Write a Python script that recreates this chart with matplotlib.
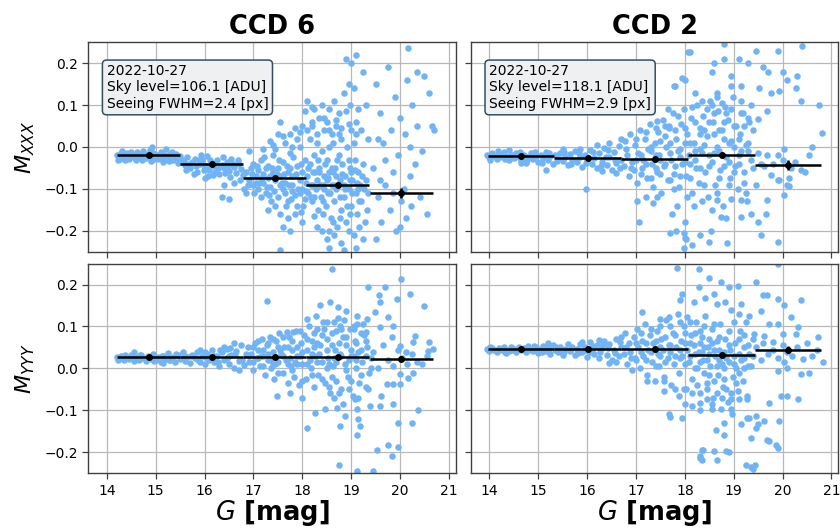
import numpy as np
import matplotlib
matplotlib.use("Agg")
import matplotlib.pyplot as plt

# ---------------- data ----------------
ccd_names = ["CCD 6", "CCD 2"]
dates = ["2022-10-27", "2022-10-27"]
sky_levels = [106.1, 118.1]
seeing_fwhm = [2.4, 2.9]

# binned statistics (centre, value, y-error, half width)
bin_g_ccd6 = [14.855, 16.145, 17.435, 18.73, 20.025]
bin_g_ccd2 = [14.65, 16.01, 17.38, 18.75, 20.11]
bin_halfwidth_ccd6 = 0.645
bin_halfwidth_ccd2 = 0.68
mxxx_ccd6 = [-0.020, -0.040, -0.074, -0.090, -0.110]
mxxx_ccd6_err = [0.002, 0.002, 0.003, 0.004, 0.013]
mxxx_ccd2 = [-0.022, -0.026, -0.029, -0.019, -0.042]
mxxx_ccd2_err = [0.002, 0.002, 0.003, 0.004, 0.012]
myyy_ccd6 = [0.026, 0.026, 0.028, 0.027, 0.023]
myyy_ccd6_err = [0.001, 0.001, 0.002, 0.003, 0.006]
myyy_ccd2 = [0.047, 0.047, 0.047, 0.031, 0.045]
myyy_ccd2_err = [0.001, 0.001, 0.002, 0.003, 0.008]

# individual stars (G, moment)
stars_ccd6_mxxx = [
    (14.20,-0.018),(14.25,-0.022),(14.30,-0.015),(14.35,-0.025),(14.40,-0.020),(14.45,-0.028),(14.50,-0.012),
    (14.55,-0.022),(14.60,-0.030),(14.65,-0.018),(14.70,-0.024),(14.75,-0.010),(14.80,-0.027),(14.85,-0.020),
    (14.90,-0.033),(14.95,-0.015),(15.00,-0.023),(15.05,-0.028),(15.10,-0.012),(15.15,-0.035),(15.20,-0.020),
    (15.25,-0.026),(15.30,-0.017),(15.35,-0.031),(15.40,-0.024),(15.45,-0.038),(15.50,-0.021),
    (14.27,-0.028),(14.42,-0.014),(14.57,-0.026),(14.72,-0.032),(14.88,-0.008),(15.03,-0.018),(15.18,-0.030),
    (15.33,-0.012),(15.48,-0.030),(14.92,-0.001),(15.22,-0.004),
    (15.55,-0.030),(15.60,-0.042),(15.65,-0.025),(15.70,-0.050),(15.75,-0.035),(15.80,-0.028),(15.85,-0.060),
    (15.90,-0.040),(15.95,-0.032),(16.00,-0.048),(16.05,-0.022),(16.10,-0.055),(16.15,-0.038),(16.20,-0.045),
    (16.25,-0.030),(16.30,-0.065),(16.35,-0.042),(16.40,-0.050),(16.45,-0.035),(16.50,-0.058),(16.55,-0.028),
    (16.60,-0.047),(16.65,-0.062),(16.70,-0.040),(16.75,-0.052),
    (15.62,-0.055),(15.78,-0.065),(15.92,-0.020),(16.08,-0.070),(16.22,-0.060),(16.38,-0.025),(16.52,-0.072),
    (16.68,-0.030),(16.78,-0.068),(16.05,-0.045),
    (16.35,-0.120),(16.50,-0.125),(16.40,-0.090),(16.00,-0.075),(16.60,-0.085),(16.80,-0.100),(16.85,-0.110),
    (16.90,-0.010),
    (16.85,-0.060),(16.90,-0.080),(16.95,-0.050),(17.00,-0.090),(17.00,-0.040),(17.05,-0.070),(17.10,-0.100),
    (17.10,-0.055),(17.15,-0.030),(17.20,-0.085),(17.20,-0.065),(17.25,-0.110),(17.30,-0.045),(17.30,-0.075),
    (17.35,-0.095),(17.40,-0.060),(17.40,-0.020),(17.45,-0.080),(17.50,-0.120),(17.50,-0.050),(17.55,-0.070),
    (17.60,-0.100),(17.60,-0.035),(17.65,-0.085),(17.70,-0.130),(17.70,-0.060),(17.75,-0.015),(17.80,-0.090),
    (17.80,-0.070),(17.85,-0.115),(17.90,-0.045),(17.90,-0.140),(17.95,-0.080),(18.00,-0.100),(18.00,-0.060),
    (18.05,-0.125),(18.05,-0.030),(17.15,-0.120),(17.45,-0.140),(17.55,-0.160),(17.30,-0.150),(17.70,-0.170),
    (17.60,-0.190),(17.85,-0.160),(18.00,-0.180),(17.40,0.005),(17.65,0.010),(17.90,0.020),(17.50,0.030),
    (17.85,0.045),(18.00,0.050),(17.20,-0.005),(17.75,-0.200),(17.55,-0.245),(17.95,0.000),
    (17.05,-0.085),(17.25,-0.050),(17.35,-0.070),(17.55,-0.090),(17.75,-0.050),(17.95,-0.110),(17.65,-0.110),
    (18.10,-0.070),(18.12,-0.110),(18.15,-0.040),(18.18,-0.090),(18.20,-0.130),(18.22,-0.060),(18.25,-0.020),
    (18.28,-0.100),(18.30,-0.080),(18.32,-0.150),(18.35,-0.050),(18.38,-0.120),(18.40,-0.010),(18.42,-0.090),
    (18.45,-0.070),(18.48,-0.140),(18.50,-0.030),(18.52,-0.110),(18.55,-0.060),(18.58,-0.170),(18.60,-0.090),
    (18.62,0.010),(18.65,-0.130),(18.68,-0.050),(18.70,-0.100),(18.72,-0.190),(18.75,-0.020),(18.78,-0.080),
    (18.80,-0.150),(18.82,-0.040),(18.85,-0.120),(18.88,-0.070),(18.90,-0.180),(18.92,0.000),(18.95,-0.100),
    (18.98,-0.050),(19.00,-0.140),(19.02,-0.080),(19.05,-0.210),(19.08,-0.030),(19.10,-0.110),(19.12,-0.160),
    (19.15,-0.060),(19.18,-0.090),(19.20,-0.130),(19.25,-0.040),(19.28,-0.180),(19.30,-0.080),(19.35,-0.110),
    (18.15,0.020),(18.20,0.050),(18.30,0.030),(18.35,0.070),(18.40,0.100),(18.45,0.040),(18.50,0.060),
    (18.55,0.090),(18.60,0.030),(18.65,0.110),(18.70,0.050),(18.75,0.080),(18.80,0.020),(18.85,0.130),
    (18.90,0.210),(18.95,0.150),(18.97,0.100),(19.00,0.200),(19.05,0.140),(19.10,0.060),(19.15,0.090),
    (19.20,0.040),(19.25,0.180),(19.30,0.100),(19.35,0.020),(18.10,0.110),(18.25,0.090),(19.10,0.220),
    (18.40,-0.200),(18.50,-0.220),(18.55,-0.240),(18.65,-0.210),(18.80,-0.230),(18.95,-0.200),(19.10,-0.240),
    (19.25,-0.220),(18.30,-0.190),(18.85,-0.245),
    (18.35,-0.060),(18.45,-0.100),(18.60,-0.050),(18.70,-0.070),(18.85,-0.090),(19.00,-0.060),(19.15,-0.100),
    (18.50,-0.080),(18.25,-0.120),(18.95,-0.030),(19.05,0.010),(18.55,0.000),(18.75,0.030),
    (19.45,-0.050),(19.50,0.150),(19.55,-0.120),(19.60,0.080),(19.62,-0.180),(19.65,0.010),(19.70,-0.090),
    (19.75,0.190),(19.80,-0.150),(19.82,0.040),(19.85,-0.060),(19.90,0.120),(19.92,-0.200),(19.95,-0.020),
    (20.00,0.070),(20.02,-0.130),(20.17,0.236),(20.08,-0.100),(20.10,0.030),(20.12,-0.170),(20.15,0.160),
    (20.20,-0.070),(20.22,-0.140),(20.25,0.100),(20.30,-0.040),(20.35,0.050),(20.40,-0.120),(20.45,-0.010),
    (20.50,0.170),(20.55,-0.160),(20.60,0.130),(20.65,0.050),(20.70,0.040),(19.50,-0.220),(19.70,-0.030),
    (20.35,0.180),(19.60,-0.080),(20.00,-0.190),(19.55,0.020),(19.85,-0.110),(20.20,0.000),
]
core_ccd6_mxxx = [
    (14.22,-0.030),(14.32,-0.010),(14.47,-0.020),(14.62,-0.012),(14.78,-0.018),(14.97,-0.028),(15.08,-0.020),
    (15.28,-0.034),(15.42,-0.016),(14.37,-0.032),(14.67,-0.026),(15.13,-0.026),
    (15.58,-0.036),(15.68,-0.040),(15.82,-0.045),(15.98,-0.055),(16.12,-0.030),(16.28,-0.050),(16.42,-0.062),
    (16.58,-0.040),(16.72,-0.080),(16.48,-0.045),(16.18,-0.068),(15.88,-0.030),
    (16.88,-0.090),(16.98,-0.065),(17.08,-0.045),(17.18,-0.075),(17.28,-0.095),(17.38,-0.050),(17.48,-0.065),
    (17.58,-0.085),(17.68,-0.045),(17.78,-0.105),(17.88,-0.065),(17.98,-0.040),(18.08,-0.085),(17.02,-0.110),
    (17.22,-0.025),(17.42,-0.105),(17.62,-0.065),(17.82,-0.025),(18.02,-0.140),(17.12,-0.085),(17.32,-0.115),
    (17.52,-0.030),(17.72,-0.090),(17.92,-0.100),(17.37,-0.130),(17.67,-0.140),(17.97,-0.155),(17.77,-0.125),
    (18.07,-0.105),
    (17.35,0.015),(17.60,0.025),(17.80,0.000),(17.95,0.035),(18.10,0.040),(18.20,0.060),(18.30,0.010),
    (18.45,0.070),(18.55,0.040),(18.70,0.065),(18.80,0.045),(18.90,0.085),(18.95,0.055),(19.00,0.040),
    (19.10,0.030),(17.55,0.060),(17.75,0.030),(17.45,-0.005),(18.05,0.085),(18.20,0.095),
    (18.12,-0.050),(18.17,-0.120),(18.22,-0.090),(18.27,-0.060),(18.32,-0.030),(18.37,-0.090),(18.42,-0.130),
    (18.47,-0.040),(18.52,-0.075),(18.57,-0.110),(18.62,-0.060),(18.67,-0.090),(18.72,-0.030),(18.77,-0.120),
    (18.82,-0.065),(18.87,-0.100),(18.92,-0.140),(18.97,-0.080),(19.02,-0.110),(19.07,-0.055),(19.12,-0.085),
    (19.17,-0.130),(19.22,-0.070),(19.27,-0.100),(19.32,-0.150),(18.42,-0.160),(18.62,-0.180),(18.77,-0.170),
    (18.97,-0.160),(19.17,-0.190),(18.25,-0.165),(18.55,-0.200),
]

stars_ccd2_mxxx = [
    (13.96,-0.018),(14.00,-0.024),(14.05,-0.015),(14.10,-0.022),(14.15,-0.028),(14.20,-0.017),(14.25,-0.025),
    (14.30,-0.012),(14.35,-0.021),(14.40,-0.030),(14.45,-0.018),(14.50,-0.026),(14.55,-0.014),(14.60,-0.023),
    (14.65,-0.032),(14.70,-0.019),(14.75,-0.038),(14.80,-0.025),(14.85,-0.015),(14.90,-0.029),(14.95,-0.021),
    (15.00,-0.035),(15.05,-0.018),(15.10,-0.027),(15.15,-0.012),(15.20,-0.032),(15.25,-0.022),(15.30,-0.040),
    (15.35,-0.019),(15.40,-0.028),(15.45,-0.014),(15.50,-0.034),(15.55,-0.024),(15.60,-0.043),(15.65,-0.017),
    (15.70,-0.030),(15.75,-0.010),(15.80,-0.036),(15.85,-0.025),(15.90,-0.047),(15.95,-0.020),(16.00,-0.032),
    (16.05,-0.008),(16.10,-0.040),(16.15,-0.026),(16.20,-0.050),(16.25,-0.015),(16.30,-0.035),(16.35,-0.003),
    (16.40,-0.044),(16.45,-0.024),(16.50,-0.055),(16.55,-0.012),(16.60,-0.038),(16.65,0.002),(16.70,-0.030),
    (14.65,-0.038),(15.16,-0.054),(15.98,-0.100),(15.50,-0.005),(16.20,0.005),(16.45,0.010),(16.60,-0.062),
    (16.30,-0.058),(14.40,-0.008),(15.85,-0.005),
    (16.75,-0.045),(16.78,0.015),(16.82,-0.020),(16.85,-0.070),(16.88,0.030),(16.92,-0.035),(16.95,-0.055),
    (16.98,0.005),(17.02,-0.085),(17.05,-0.015),(17.08,0.040),(17.12,-0.050),(17.15,-0.030),(17.18,0.020),
    (17.22,-0.075),(17.25,-0.005),(17.28,0.055),(17.32,-0.040),(17.35,-0.095),(17.38,0.010),(17.42,-0.060),
    (17.45,0.035),(17.48,-0.020),(17.52,-0.110),(17.55,0.065),(17.58,-0.045),(17.62,0.000),(17.65,-0.080),
    (17.68,0.045),(17.72,-0.030),(17.75,0.080),(17.78,-0.065),(17.82,0.020),(17.85,-0.010),(17.88,-0.095),
    (17.92,0.055),(17.95,-0.040),(17.98,0.090),(18.02,-0.070),(18.05,0.030),(18.08,-0.020),(18.12,0.070),
    (18.15,-0.110),(18.18,0.010),(18.22,-0.050),(18.25,0.100),(18.28,-0.085),(18.32,0.045),(18.35,-0.015),
    (18.38,0.075),(18.42,-0.060),(18.45,0.025),(18.48,-0.120),(18.52,0.110),(18.55,-0.035),(18.58,0.060),
    (18.62,-0.090),(18.65,0.000),(18.68,0.085),(18.72,-0.055),(18.75,0.040),(18.78,-0.140),(18.82,0.095),
    (18.85,-0.025),(18.88,0.065),(18.92,-0.075),(18.95,0.015),(18.98,0.120),(19.02,-0.045),(19.05,0.050),
    (19.08,-0.100),(19.12,0.030),(19.15,-0.010),(19.18,0.080),(19.22,-0.060),(19.25,0.005),(19.28,-0.130),
    (19.32,0.060),(19.35,-0.030),(19.40,0.040),
    (17.10,-0.020),(17.30,-0.010),(17.50,-0.030),(17.70,-0.015),(17.90,-0.025),(18.10,-0.040),(18.30,-0.005),
    (18.50,-0.020),(18.70,-0.010),(18.90,-0.035),(19.10,-0.020),(19.30,0.010),(17.60,0.025),(18.00,0.010),
    (18.40,0.040),(18.80,0.020),(17.40,-0.050),(18.20,-0.030),(18.60,0.030),(19.00,0.000),
    (18.10,0.226),(18.80,0.245),(18.80,0.210),(19.10,0.210),(19.45,0.230),(19.90,0.230),(20.40,0.240),
    (18.60,0.200),(18.56,0.180),(18.00,0.160),(17.80,0.145),(18.20,0.130),(18.66,0.130),(18.94,0.170),
    (19.30,0.200),(19.60,0.190),(19.70,0.180),(20.00,0.180),(20.10,0.160),(20.30,0.170),(20.28,0.140),
    (20.38,0.110),(20.75,0.100),(20.80,0.034),(19.76,0.130),(19.93,0.134),(19.52,0.140),(19.14,0.146),
    (18.94,0.146),(19.69,0.086),(19.49,0.066),(19.35,0.100),(19.14,0.080),(17.95,0.164),(17.78,0.146),
    (18.06,0.226),(17.44,0.062),(17.68,0.050),(16.69,0.018),
    (17.20,-0.120),(17.43,-0.120),(17.84,-0.140),(17.74,-0.160),(18.01,-0.180),(18.15,-0.235),(18.49,-0.226),
    (18.53,-0.200),(18.87,-0.230),(18.32,-0.210),(18.73,-0.166),(19.14,-0.166),(19.35,-0.160),(19.49,-0.180),
    (19.55,-0.210),(19.90,-0.226),(19.66,-0.160),(20.03,-0.114),(20.10,-0.090),(20.14,-0.074),(19.90,-0.078),
    (19.69,-0.126),(19.14,-0.126),(18.66,-0.126),(18.18,-0.142),(17.77,-0.100),(17.98,-0.206),(17.70,-0.206),
    (18.00,-0.218),(17.03,-0.130),(17.07,-0.180),(17.34,-0.134),(17.82,-0.200),(17.99,-0.240),(18.02,-0.220),
    (19.49,-0.014),(19.69,-0.018),(19.90,-0.018),(19.62,-0.046),(19.76,-0.066),(19.93,-0.078),(20.17,-0.050),
    (20.38,-0.054),(20.55,-0.018),(20.03,-0.006),(20.14,-0.094),(19.55,-0.040),(19.80,-0.040),(20.00,-0.030),
    (20.25,-0.035),(20.45,-0.060),(19.45,-0.090),(20.60,0.000),
]
core_ccd2_mxxx = [
    (14.02,-0.030),(14.18,-0.010),(14.33,-0.028),(14.48,-0.018),(14.63,-0.012),(14.78,-0.030),(14.93,-0.012),
    (15.08,-0.038),(15.23,-0.015),(15.38,-0.033),(15.53,-0.012),(15.68,-0.040),(15.83,-0.015),(15.98,-0.038),
    (16.13,-0.012),(16.28,-0.045),(16.43,-0.008),(16.58,-0.030),(16.68,-0.050),(16.38,-0.025),
    (16.80,-0.005),(16.90,-0.050),(17.00,0.020),(17.00,-0.030),(17.10,-0.065),(17.20,0.035),(17.20,-0.040),
    (17.30,0.000),(17.30,-0.075),(17.40,0.045),(17.40,-0.020),(17.50,0.015),(17.50,-0.065),(17.60,-0.040),
    (17.60,0.050),(17.70,-0.080),(17.70,0.010),(17.80,0.040),(17.80,-0.045),(17.90,-0.005),(17.90,-0.070),
    (18.00,0.045),(18.00,-0.035),(18.10,0.010),(18.10,-0.075),(18.20,0.060),(18.20,-0.010),(18.30,-0.050),
    (18.30,0.030),(18.40,-0.090),(18.40,0.005),(18.50,0.060),(18.50,-0.045),(18.60,-0.015),(18.60,0.080),
    (18.70,0.040),(18.70,-0.075),(18.80,-0.045),(18.80,0.060),(18.90,0.010),(18.90,-0.090),(19.00,0.050),
    (19.00,-0.060),(19.10,0.020),(19.10,-0.040),(19.20,0.050),(19.20,-0.085),(19.30,-0.010),(19.30,0.070),
    (19.40,-0.050),(18.55,0.100),(18.75,0.105),(18.65,0.120),(18.85,0.080),(18.45,0.090),(18.35,0.110),
    (19.15,0.110),(18.95,0.090),(17.65,0.090),(17.85,0.075),(18.15,0.095),(18.05,-0.120),(18.35,-0.130),
    (18.65,-0.110),(18.95,-0.125),(19.25,-0.110),(18.55,-0.150),(18.85,-0.170),
]

stars_ccd6_myyy = [
    (14.20,0.026),(14.25,0.022),(14.30,0.030),(14.35,0.019),(14.40,0.027),(14.45,0.023),(14.50,0.033),
    (14.55,0.018),(14.60,0.028),(14.65,0.021),(14.70,0.031),(14.75,0.024),(14.80,0.017),(14.85,0.029),
    (14.90,0.022),(14.95,0.034),(15.00,0.020),(15.05,0.027),(15.10,0.016),(15.15,0.030),(15.20,0.023),
    (15.25,0.036),(15.30,0.019),(15.35,0.026),(15.40,0.014),(15.45,0.032),(15.50,0.022),(15.55,0.038),
    (15.60,0.018),(15.65,0.028),(15.70,0.012),(15.75,0.033),(15.80,0.024),(15.85,0.040),(15.90,0.016),
    (15.95,0.029),(16.00,0.010),(16.05,0.035),(16.10,0.021),(16.15,0.043),(16.20,0.014),(16.25,0.030),
    (16.30,0.006),(16.35,0.038),(16.40,0.020),(16.45,0.047),(16.50,0.011),(16.55,0.032),(16.60,0.002),
    (16.65,0.042),(16.70,0.018),(16.75,0.055),(16.80,0.008),
    (14.55,0.040),(15.15,0.012),(15.90,0.045),(16.40,0.052),(16.60,0.060),(16.70,-0.005),(16.50,0.030),
    (16.20,0.030),(16.00,0.028),(15.60,0.030),(16.85,0.035),
    (16.88,0.050),(16.92,0.015),(16.95,0.035),(17.00,-0.005),(17.03,0.060),(17.07,0.025),(17.10,0.045),
    (17.13,0.005),(17.17,0.070),(17.20,0.030),(17.23,-0.015),(17.27,0.055),(17.30,0.020),(17.33,0.075),
    (17.37,0.000),(17.40,0.040),(17.43,-0.025),(17.47,0.065),(17.50,0.015),(17.53,0.085),(17.57,0.035),
    (17.60,-0.010),(17.63,0.050),(17.67,0.020),(17.70,-0.035),(17.73,0.075),(17.77,0.005),(17.80,0.045),
    (17.83,-0.020),(17.87,0.090),(17.90,0.030),(17.93,-0.040),(17.97,0.060),(18.00,0.010),(18.03,0.080),
    (18.07,-0.025),(18.10,0.045),(18.13,0.100),(18.17,0.000),(18.20,0.065),(18.23,-0.045),(18.27,0.030),
    (18.30,0.095),(18.33,-0.015),(18.37,0.055),(18.40,0.015),(18.43,0.110),(18.47,-0.035),(18.50,0.070),
    (18.53,0.025),(18.57,-0.060),(18.60,0.085),(18.63,0.005),(18.67,0.045),(18.70,-0.030),(18.73,0.120),
    (18.77,0.035),(18.80,-0.050),(18.83,0.075),(18.87,0.010),(18.90,0.055),(18.93,-0.020),(18.97,0.095),
    (19.00,0.030),(19.03,-0.065),(19.07,0.065),(19.10,0.000),(19.13,0.105),(19.17,-0.035),(19.20,0.045),
    (19.23,0.015),(19.27,0.080),(19.30,-0.045),(19.33,0.050),(19.37,-0.010),(19.40,0.025),
    (17.15,0.030),(17.35,0.020),(17.55,0.045),(17.75,0.025),(17.95,0.030),(18.15,0.020),(18.35,0.035),
    (18.55,0.010),(18.75,0.060),(18.95,0.020),(19.15,0.040),(17.45,0.010),(17.85,0.015),(18.25,0.050),
    (18.65,0.025),(19.05,0.030),
    (19.45,0.040),(19.55,0.000),(19.65,0.055),(19.75,0.020),(19.85,0.005),(19.95,0.045),(20.05,0.025),
    (20.15,0.010),(20.25,0.035),(20.35,0.015),(20.45,0.010),(20.55,0.030),
    (18.60,0.237),(20.03,0.214),(19.35,0.194),(19.69,0.194),(17.27,0.160),(18.36,0.152),(18.57,0.158),
    (18.74,0.146),(18.90,0.136),(19.11,0.126),(19.56,0.174),(19.59,0.158),(19.93,0.166),(20.20,0.178),
    (20.50,0.150),(19.49,0.134),(19.76,0.122),(19.32,0.118),(18.09,0.118),(18.29,0.126),(17.82,0.086),
    (17.68,0.086),(17.95,0.090),(18.50,0.110),(18.77,0.102),(19.05,0.094),(19.30,0.086),(19.59,0.098),
    (19.86,0.102),(20.30,0.078),(20.60,0.062),(20.57,0.042),(20.68,0.046),(20.27,0.062),(20.00,0.054),
    (20.13,0.038),(19.83,0.074),
    (17.48,-0.066),(17.75,-0.058),(17.99,-0.070),(18.09,-0.142),(18.26,-0.106),(18.47,-0.098),(18.64,-0.070),
    (18.71,-0.094),(18.77,-0.138),(18.87,-0.114),(18.84,-0.086),(19.08,-0.074),(19.11,-0.098),(19.15,-0.122),
    (19.18,-0.138),(19.11,-0.158),(19.35,-0.050),(19.39,-0.090),(19.59,-0.090),(19.62,-0.066),(19.86,-0.086),
    (19.86,-0.038),(20.00,-0.038),(19.96,-0.130),(20.24,-0.130),(20.37,-0.100),(19.52,-0.194),(19.76,-0.184),
    (19.96,-0.187),(19.83,-0.210),(18.76,-0.231),(19.11,-0.246),(19.45,-0.246),(20.17,-0.022),(20.27,-0.010),
    (20.00,-0.014),(19.73,-0.038),
]
core_ccd6_myyy = [
    (14.22,0.020),(14.37,0.031),(14.52,0.024),(14.67,0.033),(14.82,0.025),(14.97,0.018),(15.12,0.029),
    (15.27,0.021),(15.42,0.034),(15.57,0.024),(15.72,0.030),(15.87,0.020),(16.02,0.040),(16.17,0.025),
    (16.32,0.045),(16.47,0.025),(16.62,0.035),(16.77,0.020),(16.52,0.048),(16.27,0.016),
    (16.90,0.030),(17.00,0.050),(17.00,0.015),(17.10,0.025),(17.10,0.065),(17.20,0.045),(17.20,0.005),
    (17.30,0.060),(17.30,0.035),(17.40,0.010),(17.40,0.070),(17.50,0.050),(17.50,-0.010),(17.60,0.030),
    (17.60,0.075),(17.70,0.050),(17.70,0.010),(17.80,0.065),(17.80,-0.005),(17.90,0.050),(17.90,0.010),
    (18.00,0.040),(18.00,-0.030),(18.10,0.070),(18.10,0.010),(18.20,0.035),(18.20,-0.015),(18.30,0.060),
    (18.30,0.015),(18.40,0.080),(18.40,-0.025),(18.50,0.045),(18.50,0.000),(18.60,0.055),(18.60,-0.020),
    (18.70,0.090),(18.70,0.015),(18.80,0.030),(18.80,0.095),(18.90,-0.005),(18.90,0.075),(19.00,0.045),
    (19.00,-0.030),(19.10,0.060),(19.10,0.020),(19.20,0.085),(19.20,-0.015),(19.30,0.030),(19.30,0.065),
    (19.40,0.000),(18.45,0.095),(18.65,0.110),(18.85,0.115),(19.05,0.100),(19.25,0.105),(18.25,0.085),
    (18.55,-0.045),(18.75,-0.060),(18.95,-0.050),(19.15,-0.070),
]

stars_ccd2_myyy = [
    (13.96,0.046),(14.00,0.042),(14.05,0.049),(14.10,0.044),(14.15,0.040),(14.20,0.048),(14.25,0.043),
    (14.30,0.051),(14.35,0.045),(14.40,0.041),(14.45,0.050),(14.50,0.046),(14.55,0.039),(14.60,0.052),
    (14.65,0.044),(14.70,0.048),(14.75,0.038),(14.80,0.053),(14.85,0.045),(14.90,0.041),(14.95,0.050),
    (15.00,0.036),(15.05,0.047),(15.10,0.054),(15.15,0.042),(15.20,0.049),(15.25,0.035),(15.30,0.056),
    (15.35,0.044),(15.40,0.039),(15.45,0.051),(15.50,0.033),(15.55,0.047),(15.60,0.057),(15.65,0.041),
    (15.70,0.052),(15.75,0.031),(15.80,0.046),(15.85,0.059),(15.90,0.038),(15.95,0.050),(16.00,0.028),
    (16.05,0.062),(16.10,0.043),(16.15,0.035),(16.20,0.055),(16.25,0.025),(16.30,0.048),(16.35,0.066),
    (16.40,0.032),(16.45,0.058),(16.50,0.020),(16.55,0.045),(16.60,0.070),(16.65,0.030),(16.70,0.052),
    (14.35,0.036),(15.20,0.060),(15.90,0.062),(16.25,0.068),(16.45,0.012),(16.60,0.015),(16.70,0.075),
    (16.05,0.040),(15.45,0.042),
    (16.75,0.035),(16.78,0.085),(16.82,0.010),(16.85,0.060),(16.88,0.040),(16.92,-0.005),(16.95,0.075),
    (16.98,0.025),(17.02,0.095),(17.05,0.050),(17.08,0.000),(17.12,0.065),(17.15,0.030),(17.18,0.105),
    (17.22,-0.015),(17.25,0.045),(17.28,0.080),(17.32,0.015),(17.35,0.060),(17.38,-0.030),(17.42,0.090),
    (17.45,0.035),(17.48,0.005),(17.52,0.070),(17.55,0.045),(17.58,-0.020),(17.62,0.115),(17.65,0.025),
    (17.68,0.055),(17.72,-0.040),(17.75,0.085),(17.78,0.010),(17.82,0.050),(17.85,0.130),(17.88,-0.010),
    (17.92,0.065),(17.95,0.030),(17.98,0.100),(18.02,-0.050),(18.05,0.045),(18.08,0.015),(18.12,0.080),
    (18.15,-0.025),(18.18,0.055),(18.22,0.110),(18.25,0.000),(18.28,0.040),(18.32,-0.060),(18.35,0.075),
    (18.38,0.020),(18.42,0.125),(18.45,-0.035),(18.48,0.050),(18.52,0.005),(18.55,0.095),(18.58,-0.070),
    (18.62,0.030),(18.65,0.065),(18.68,-0.015),(18.72,0.105),(18.75,0.010),(18.78,-0.045),(18.82,0.070),
    (18.85,0.025),(18.88,-0.080),(18.92,0.045),(18.95,0.140),(18.98,-0.020),(19.02,0.060),(19.05,0.000),
    (19.08,-0.055),(19.12,0.090),(19.15,0.020),(19.18,-0.030),(19.22,0.050),(19.25,0.110),(19.28,-0.065),
    (19.32,0.035),(19.35,0.005),(19.40,0.070),
    (18.10,0.030),(18.20,0.000),(18.30,0.060),(18.40,-0.010),(18.50,0.035),(18.60,-0.030),(18.70,0.045),
    (18.80,0.000),(18.90,0.015),(19.00,0.030),(19.10,-0.010),(19.20,0.000),(17.50,0.030),(17.70,0.040),
    (17.90,0.025),(18.00,0.060),(18.45,0.020),(18.65,0.005),(18.35,0.040),(18.55,0.060),
    (19.45,0.050),(19.55,0.020),(19.60,0.060),(19.70,0.035),(19.80,0.045),(19.90,0.025),(20.00,0.055),
    (20.10,0.040),(20.20,0.030),(20.30,0.050),(20.50,0.060),(20.70,0.045),(20.60,0.030),
    (17.84,0.240),(18.29,0.238),(18.49,0.216),(18.73,0.205),(18.90,0.194),(19.08,0.197),(19.45,0.205),
    (19.90,0.250),(18.29,0.194),(18.60,0.178),(18.42,0.168),(17.94,0.178),(17.91,0.162),(18.18,0.158),
    (18.66,0.154),(18.83,0.158),(19.14,0.154),(19.59,0.174),(19.69,0.174),(19.90,0.166),(20.03,0.152),
    (20.38,0.162),(19.55,0.136),(19.31,0.126),(19.11,0.130),(17.67,0.122),(17.50,0.118),(18.05,0.122),
    (20.17,0.122),(19.73,0.106),(19.90,0.106),(20.31,0.098),(20.28,0.082),(20.00,0.082),(17.12,0.134),
    (19.42,0.082),(19.62,0.078),(19.80,0.062),(20.72,0.074),(20.82,0.014),(20.55,-0.010),(20.38,-0.014),
    (20.41,0.022),(20.03,0.014),(19.90,-0.006),(20.10,0.002),
    (17.22,-0.030),(17.57,-0.030),(17.57,-0.054),(17.80,-0.050),(17.87,-0.066),(17.98,-0.050),(18.01,-0.086),
    (17.67,-0.110),(17.94,-0.118),(18.15,-0.090),(18.32,-0.082),(18.46,-0.074),(18.32,-0.100),(18.56,-0.098),
    (18.73,-0.098),(18.94,-0.098),(18.97,-0.110),(18.94,-0.074),(19.11,-0.074),(19.28,-0.074),(19.28,-0.118),
    (19.45,-0.114),(19.62,-0.126),(19.73,-0.082),(19.97,-0.066),(20.10,-0.066),(20.31,-0.074),(19.93,-0.126),
    (19.69,-0.170),(19.73,-0.174),(19.86,-0.182),(19.14,-0.134),(19.31,-0.118),(19.45,-0.142),(19.35,-0.166),
    (19.49,-0.134),(18.80,-0.130),(18.80,-0.158),(18.84,-0.198),(18.63,-0.146),(18.60,-0.198),(18.36,-0.194),
    (18.36,-0.218),(18.32,-0.214),(18.66,-0.218),(19.25,-0.230),(19.35,-0.235),(18.38,-0.195),(18.31,-0.210),
    (18.90,-0.200),(19.43,-0.230),(19.40,-0.240),(19.90,-0.190),(17.70,-0.115),
]
core_ccd2_myyy = [
    (14.02,0.050),(14.17,0.044),(14.32,0.039),(14.47,0.043),(14.62,0.048),(14.77,0.044),(14.92,0.054),
    (15.07,0.040),(15.22,0.046),(15.37,0.052),(15.52,0.040),(15.67,0.047),(15.82,0.036),(15.97,0.044),
    (16.12,0.054),(16.27,0.040),(16.42,0.048),(16.57,0.036),(16.67,0.062),(16.32,0.058),
    (16.80,0.050),(16.90,0.025),(17.00,0.060),(17.00,0.020),(17.10,0.085),(17.10,0.040),(17.20,0.060),
    (17.20,0.020),(17.30,0.095),(17.30,0.040),(17.40,0.065),(17.40,0.005),(17.50,0.050),(17.50,0.100),
    (17.60,0.075),(17.60,0.015),(17.70,0.055),(17.70,0.100),(17.80,0.030),(17.80,0.080),(17.90,0.110),
    (17.90,0.045),(18.00,0.085),(18.00,0.010),(18.10,0.060),(18.10,0.110),(18.20,0.035),(18.20,0.085),
    (18.30,0.090),(18.30,0.015),(18.40,0.050),(18.40,0.100),(18.50,0.070),(18.50,-0.015),(18.60,0.045),
    (18.60,0.105),(18.70,0.020),(18.70,0.075),(18.80,0.040),(18.80,-0.025),(18.90,0.090),(18.90,0.055),
    (19.00,0.010),(19.00,0.110),(19.10,0.035),(19.10,0.070),(19.20,0.025),(19.20,0.080),(19.30,0.005),
    (19.30,0.055),(19.40,0.030),(18.45,-0.050),(18.65,-0.060),(18.85,-0.050),(19.05,-0.035),(18.25,-0.040),
    (18.15,-0.060),(18.55,-0.085),(18.75,-0.070),(18.95,-0.060),
]

xticks_vals = [14, 15, 16, 17, 18, 19, 20, 21]
yticks_vals = [-0.2, -0.1, 0.0, 0.1, 0.2]

# ---------------- plotting ----------------
point_color = "#70b4f5"

fig, axes = plt.subplots(2, 2, figsize=(8.4, 5.28), dpi=100, sharex=True, sharey=True)
fig.subplots_adjust(left=0.105, right=0.998, top=0.92, bottom=0.104, wspace=0.041, hspace=0.057)

panels = [
    (axes[0, 0], stars_ccd6_mxxx + core_ccd6_mxxx, bin_g_ccd6, bin_halfwidth_ccd6, mxxx_ccd6, mxxx_ccd6_err),
    (axes[0, 1], stars_ccd2_mxxx + core_ccd2_mxxx, bin_g_ccd2, bin_halfwidth_ccd2, mxxx_ccd2, mxxx_ccd2_err),
    (axes[1, 0], stars_ccd6_myyy + core_ccd6_myyy, bin_g_ccd6, bin_halfwidth_ccd6, myyy_ccd6, myyy_ccd6_err),
    (axes[1, 1], stars_ccd2_myyy + core_ccd2_myyy, bin_g_ccd2, bin_halfwidth_ccd2, myyy_ccd2, myyy_ccd2_err),
]

for ax, stars, bg, hw, bv, be in panels:
    arr = np.array(stars)
    ax.grid(True, color="#b8b8b8", lw=0.9, zorder=0)
    ax.set_axisbelow(True)
    ax.scatter(arr[:, 0], arr[:, 1], s=22, c=point_color, lw=0, zorder=2)
    ax.errorbar(bg, bv, xerr=hw, yerr=be, fmt="o", color="k", ms=4,
                elinewidth=1.8, capsize=0, zorder=3)
    for sp in ax.spines.values():
        sp.set_color("#404040")
        sp.set_linewidth(1.0)
    ax.tick_params(direction="out", length=4, width=0.9, labelsize=10, color="#404040")

axes[0, 0].set_xlim(13.62, 21.14)
axes[0, 0].set_ylim(-0.25, 0.25)
axes[0, 0].set_xticks(xticks_vals)
axes[0, 0].set_yticks(yticks_vals)

for j in range(2):
    axes[0, j].set_title(ccd_names[j], fontsize=18.5, fontweight="bold", pad=6)
    txt = f"{dates[j]}\nSky level={sky_levels[j]:.1f} [ADU]\nSeeing FWHM={seeing_fwhm[j]:.1f} [px]"
    axes[0, j].text(0.05, 0.895, txt, transform=axes[0, j].transAxes, va="top", ha="left",
                    fontsize=10, zorder=5,
                    bbox=dict(boxstyle="round,pad=0.3", fc="#eef0f1", ec="#34505f", lw=1.1))
    axes[1, j].set_xlabel("$G$ [mag]", fontsize=18.5, fontweight="bold", labelpad=0)

axes[0, 0].set_ylabel("$M_{XXX}$", fontsize=16, labelpad=5)
axes[1, 0].set_ylabel("$M_{YYY}$", fontsize=16, labelpad=5)

fig.savefig("out.png", dpi=100)
